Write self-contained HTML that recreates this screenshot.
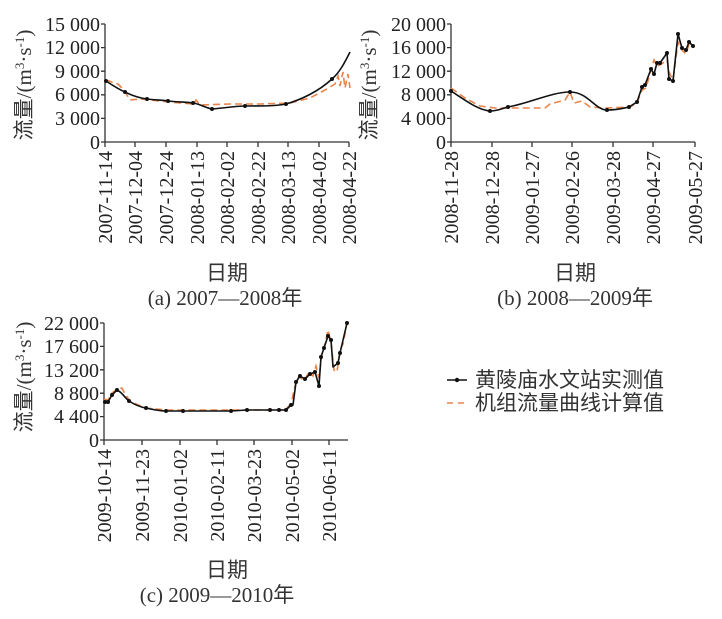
<!DOCTYPE html>
<html><head><meta charset="utf-8"><style>
html,body{margin:0;padding:0;background:#fff;}
svg{display:block;font-family:"Liberation Serif","Noto Serif CJK SC",serif;}
.t{font-size:20px;fill:#222;}
.c{font-family:"Liberation Serif","Noto Sans CJK SC",sans-serif;font-size:21px;fill:#333;}
.ax{stroke:#333;stroke-width:1.3;fill:none;}
.bk{stroke:#111;stroke-width:1.6;fill:none;stroke-linejoin:round;}
.or{stroke:#e8834a;stroke-width:1.6;fill:none;stroke-dasharray:7,4;}
</style></head><body>
<svg width="722" height="619" viewBox="0 0 722 619" xmlns="http://www.w3.org/2000/svg">
<!-- Panel A -->
<g>
<path class="ax" d="M105,24 V142 H349"/>
<g class="ax"><path d="M101,24H105M101,47.6H105M101,71.2H105M101,94.8H105M101,118.4H105M101,142H105"/>
<path d="M105,142v5M135,142v5M166,142v5M197,142v5M227,142v5M258,142v5M288,142v5M319,142v5M349,142v5"/></g>
<g class="t" text-anchor="end">
<text x="100" y="31">15 000</text><text x="100" y="54">12 000</text><text x="100" y="78">9 000</text><text x="100" y="101">6 000</text><text x="100" y="125">3 000</text><text x="100" y="149">0</text>
</g>
<g class="t" text-anchor="end">
<text transform="translate(112,151) rotate(-90)">2007-11-14</text>
<text transform="translate(142,151) rotate(-90)">2007-12-04</text>
<text transform="translate(173,151) rotate(-90)">2007-12-24</text>
<text transform="translate(204,151) rotate(-90)">2008-01-13</text>
<text transform="translate(234,151) rotate(-90)">2008-02-02</text>
<text transform="translate(265,151) rotate(-90)">2008-02-22</text>
<text transform="translate(295,151) rotate(-90)">2008-03-13</text>
<text transform="translate(326,151) rotate(-90)">2008-04-02</text>
<text transform="translate(356,151) rotate(-90)">2008-04-22</text>
</g>
<path class="or" d="M106,80 L118,84 L124,90 L130,100 L140,99 L160,101 L180,103 L194,104 L196,100 L200,105 L230,104 L260,104 L290,103 L310,98 L325,90 L335,84 L338,76 L340,86 L343,72 L345,88 L348,74 L350,88"/>
<path class="bk" d="M106,81 C112,85 118,89 125,92 C133,96 140,98 147,99 C155,100 161,100 168,101 C178,102 186,102 193,103 C200,104 206,108 212,109 C225,108 235,106 245,106 C265,106 276,106 286,104 C300,100 318,92 332,79 C340,72 345,62 350,52"/>
<g fill="#111"><circle cx="106" cy="81" r="2"/><circle cx="125" cy="92" r="2"/><circle cx="147" cy="99" r="2"/><circle cx="168" cy="101" r="2"/><circle cx="193" cy="103" r="2"/><circle cx="212" cy="109" r="2"/><circle cx="245" cy="106" r="2"/><circle cx="286" cy="104" r="2"/><circle cx="332" cy="79" r="2"/></g>
<text class="c" transform="translate(31,85) rotate(-90)" text-anchor="middle">流量/(m<tspan font-size="13" dy="-7">3</tspan><tspan dy="7">·s</tspan><tspan font-size="13" dy="-7">-1</tspan><tspan dy="7">)</tspan></text>
<text class="c" x="227" y="280" text-anchor="middle">日期</text>
<text class="c" x="225" y="305" text-anchor="middle">(a) 2007—2008年</text>
</g>
<!-- Panel B -->
<g>
<path class="ax" d="M451,24 V142 H695"/>
<g class="ax"><path d="M447,24H451M447,47.6H451M447,71.2H451M447,94.8H451M447,118.4H451M447,142H451"/>
<path d="M451,142v5M492,142v5M532,142v5M572,142v5M613,142v5M653,142v5M695,142v5"/></g>
<g class="t" text-anchor="end">
<text x="446" y="31">20 000</text><text x="446" y="54">16 000</text><text x="446" y="78">12 000</text><text x="446" y="101">8 000</text><text x="446" y="125">4 000</text><text x="446" y="149">0</text>
</g>
<g class="t" text-anchor="end">
<text transform="translate(458,151) rotate(-90)">2008-11-28</text>
<text transform="translate(499,151) rotate(-90)">2008-12-28</text>
<text transform="translate(539,151) rotate(-90)">2009-01-27</text>
<text transform="translate(579,151) rotate(-90)">2009-02-26</text>
<text transform="translate(620,151) rotate(-90)">2009-03-28</text>
<text transform="translate(660,151) rotate(-90)">2009-04-27</text>
<text transform="translate(702,151) rotate(-90)">2009-05-27</text>
</g>
<path class="or" d="M451,88 L465,98 L480,106 L495,108 L545,108 L550,104 L565,100 L570,92 L574,103 L582,101 L590,107 L605,108 L630,107 L637,103 L642,90 L646,88 L651,70 L654,60 L657,66 L660,65 L667,60 L669,72 L673,80 L678,42 L682,50 L686,54 L689,44 L693,46"/>
<path class="bk" d="M451,91 C465,100 478,110 490,111 C498,111 503,108 508,107 C530,103 552,92 570,92 C588,92 595,110 607,110 C618,110 624,108 629,107 L637,102 L642,87 L645,85 L651,69 L654,74 L657,63 L660,63 L667,53 L669,79 L673,81 L678,34 L682,48 L686,50 L689,42 L693,46"/>
<g fill="#111"><circle cx="451" cy="91" r="2"/><circle cx="490" cy="111" r="2"/><circle cx="508" cy="107" r="2"/><circle cx="570" cy="92" r="2"/><circle cx="607" cy="110" r="2"/><circle cx="629" cy="107" r="2"/><circle cx="637" cy="102" r="2"/><circle cx="642" cy="87" r="2"/><circle cx="645" cy="85" r="2"/><circle cx="651" cy="69" r="2"/><circle cx="654" cy="74" r="2"/><circle cx="657" cy="63" r="2"/><circle cx="660" cy="63" r="2"/><circle cx="667" cy="53" r="2"/><circle cx="669" cy="79" r="2"/><circle cx="673" cy="81" r="2"/><circle cx="678" cy="34" r="2"/><circle cx="682" cy="48" r="2"/><circle cx="686" cy="50" r="2"/><circle cx="689" cy="42" r="2"/><circle cx="693" cy="46" r="2"/></g>
<text class="c" transform="translate(376,85) rotate(-90)" text-anchor="middle">流量/(m<tspan font-size="13" dy="-7">3</tspan><tspan dy="7">·s</tspan><tspan font-size="13" dy="-7">-1</tspan><tspan dy="7">)</tspan></text>
<text class="c" x="575" y="280" text-anchor="middle">日期</text>
<text class="c" x="575" y="305" text-anchor="middle">(b) 2008—2009年</text>
</g>
<!-- Panel C -->
<g>
<path class="ax" d="M104,323 V440 H348"/>
<g class="ax"><path d="M100,323H104M100,346.4H104M100,369.8H104M100,393.2H104M100,416.6H104M100,440H104"/>
<path d="M104,440v5M142,440v5M180,440v5M217,440v5M254,440v5M292,440v5M329,440v5"/></g>
<g class="t" text-anchor="end">
<text x="99" y="330">22 000</text><text x="99" y="353">17 600</text><text x="99" y="377">13 200</text><text x="99" y="400">8 800</text><text x="99" y="423">4 400</text><text x="99" y="447">0</text>
</g>
<g class="t" text-anchor="end">
<text transform="translate(111,449) rotate(-90)">2009-10-14</text>
<text transform="translate(149,449) rotate(-90)">2009-11-23</text>
<text transform="translate(187,449) rotate(-90)">2010-01-02</text>
<text transform="translate(224,449) rotate(-90)">2010-02-11</text>
<text transform="translate(261,449) rotate(-90)">2010-03-23</text>
<text transform="translate(299,449) rotate(-90)">2010-05-02</text>
<text transform="translate(336,449) rotate(-90)">2010-06-11</text>
</g>
<path class="or" d="M104,399 L108,400 L112,393 L117,389 L122,388 L125,394 L131,402 L146,408 L166,410 L200,410 L250,410 L285,410 L291,404 L295,386 L299,376 L304,381 L309,372 L313,376 L316,366 L319,378 L322,352 L325,344 L328,330 L331,342 L334,370 L337,372 L340,350 L343,344 L347,323"/>
<path class="bk" d="M105,402 L108,402 L112,395 L117,390 C122,392 125,398 129,401 C135,405 140,407 146,408 C155,410 160,411 166,411 L183,411 L231,411 L247,410 L270,410 L279,410 L286,410 L291,405 L293,405 L296,382 L300,376 L305,379 L310,374 L315,372 L319,386 L321,357 L324,348 L328,336 L331,340 L333,367 L338,363 L340,353 L347,323"/>
<g fill="#111"><circle cx="105" cy="402" r="2"/><circle cx="108" cy="402" r="2"/><circle cx="112" cy="395" r="2"/><circle cx="117" cy="390" r="2"/><circle cx="129" cy="401" r="2"/><circle cx="146" cy="408" r="2"/><circle cx="166" cy="411" r="2"/><circle cx="183" cy="411" r="2"/><circle cx="231" cy="411" r="2"/><circle cx="247" cy="410" r="2"/><circle cx="270" cy="410" r="2"/><circle cx="279" cy="410" r="2"/><circle cx="286" cy="410" r="2"/><circle cx="291" cy="405" r="2"/><circle cx="296" cy="382" r="2"/><circle cx="300" cy="376" r="2"/><circle cx="305" cy="379" r="2"/><circle cx="310" cy="374" r="2"/><circle cx="315" cy="372" r="2"/><circle cx="319" cy="386" r="2"/><circle cx="321" cy="357" r="2"/><circle cx="324" cy="348" r="2"/><circle cx="328" cy="336" r="2"/><circle cx="331" cy="340" r="2"/><circle cx="338" cy="363" r="2"/><circle cx="340" cy="353" r="2"/><circle cx="347" cy="323" r="2"/></g>
<text class="c" transform="translate(31,377) rotate(-90)" text-anchor="middle">流量/(m<tspan font-size="13" dy="-7">3</tspan><tspan dy="7">·s</tspan><tspan font-size="13" dy="-7">-1</tspan><tspan dy="7">)</tspan></text>
<text class="c" x="227" y="577" text-anchor="middle">日期</text>
<text class="c" x="217" y="602" text-anchor="middle">(c) 2009—2010年</text>
</g>
<!-- Legend -->
<path d="M447,380H467" stroke="#111" stroke-width="1.6"/><circle cx="457" cy="380" r="2.2" fill="#111"/>
<path d="M447,403H467" stroke="#e8834a" stroke-width="1.6" stroke-dasharray="6,5"/>
<text class="c" x="475" y="387">黄陵庙水文站实测值</text>
<text class="c" x="475" y="410">机组流量曲线计算值</text>
</svg>
</body></html>
